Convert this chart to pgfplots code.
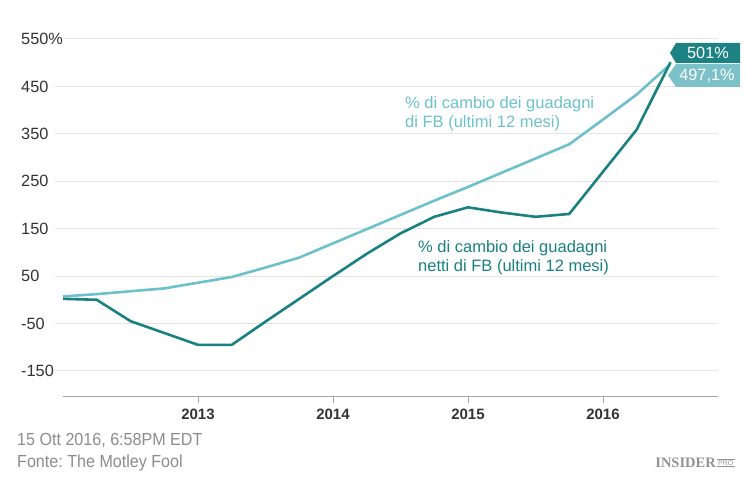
\documentclass[border=0pt]{standalone}
\usepackage{fontspec}
\setmainfont{Liberation Sans}
\newfontfamily\cond[FakeStretch=0.92]{Liberation Sans}
\newfontfamily\serifb{Liberation Serif}
\usepackage{pgfplots}
\pgfplotsset{compat=1.18}
\frenchspacing
\definecolor{darkt}{HTML}{1A8080}
\definecolor{lightt}{HTML}{6CC1CA}
\definecolor{tagd}{HTML}{1D8283}
\definecolor{tagl}{HTML}{7CC0C8}
\definecolor{gridc}{HTML}{E3E3E3}
\definecolor{txt}{HTML}{333333}
\definecolor{foot}{HTML}{8C8C8C}
\pgfplotstableread{
x y
2012.00 2
2012.25 0
2012.50 -45
2012.75 -70
2013.00 -95
2013.25 -95
2013.50 -46
2013.75 2
2014.00 50
2014.25 97
2014.50 140
2014.75 175
2015.00 195
2015.25 184
2015.50 175
2015.75 181
2016.00 270
2016.25 359
2016.50 501
}\netinc
\pgfplotstableread{
x y
2012.00 7
2012.25 12
2012.50 18
2012.75 24
2013.00 36
2013.25 48
2013.50 68
2013.75 89
2014.00 119
2014.25 149
2014.50 179
2014.75 209
2015.00 238
2015.25 268
2015.50 298
2015.75 328
2016.00 380
2016.25 433
2016.50 497.1
}\eps
\begin{document}
\begin{tikzpicture}[x=1pt,y=1pt]
\useasboundingbox (0,0) rectangle (750,497);
\begin{axis}[
  at={(63pt,100pt)}, anchor=south west,
  scale only axis, width=655pt, height=358pt,
  xmin=2012, xmax=2016.852, ymin=-205, ymax=550,
  clip=false,
  axis line style={draw=none},
  xtick={2013,2014,2015,2016},
  xticklabels={2013,2014,2015,2016},
  ytick={-150,-50,50,150,250,350,450,550},
  yticklabels={-150,-50,50,150,250,350,450,550\%},
  xtick pos=bottom, ytick pos=left,
  tick align=outside, major tick length=6pt,
  xtick style={draw=gray!70, line width=0.8pt},
  ytick style={draw=none},
  yticklabel style={anchor=west, inner sep=0pt, xshift=-36pt, font=\fontsize{16.3}{18}\selectfont, text=txt},
  xticklabel style={font=\bfseries\fontsize{15}{17}\selectfont, text=txt, yshift=-2pt},
]
\pgfplotsinvokeforeach{-150,-50,50,150,250,350,450}{
  \draw[gridc, line width=1pt] ([xshift=-8pt]axis cs:2012,#1) -- (axis cs:2016.852,#1);
}
\draw[gridc, line width=1pt] ([xshift=2pt]axis cs:2012,550) -- (axis cs:2016.852,550);
\draw[gray!70, line width=1pt] (axis cs:2012,-205) -- (axis cs:2016.852,-205);
\addplot[lightt, line width=2.6pt, line join=round] table[x=x,y=y]{\eps};
\addplot[darkt, line width=2.6pt, line join=round] table[x=x,y=y]{\netinc};
\end{axis}
% series labels
\node[anchor=west, align=left, inner sep=0pt, text=lightt, font=\fontsize{16.5}{19}\selectfont] at (405,383) {\% di cambio dei guadagni\\di FB (ultimi 12 mesi)};
\node[anchor=west, align=left, inner sep=0pt, text=darkt, font=\fontsize{16.5}{19}\selectfont] at (418,239.5) {\% di cambio dei guadagni\\netti di FB (ultimi 12 mesi)};
% value tags
\fill[tagd] (676,454) -- (740,454) -- (740,434) -- (676,434) -- (670,444) -- cycle;
\fill[tagl] (676,433) -- (740,433) -- (740,410) -- (676,410) -- (668,421.5) -- cycle;
\node[text=white, font=\fontsize{16.3}{18}\selectfont] at (708,444) {501\%};
\node[text=white, font=\fontsize{16.3}{18}\selectfont] at (707,421.5) {497,1\%};
% footer
\node[anchor=west, inner sep=0pt, text=foot, font=\cond\fontsize{17.5}{20}\selectfont] at (17,56) {15 Ott 2016, 6:58PM EDT};
\node[anchor=west, inner sep=0pt, text=foot, font=\cond\fontsize{17.5}{20}\selectfont] at (17,34) {Fonte: The Motley Fool};
\node[anchor=east, inner sep=0pt, text=gray!85, font=\serifb\bfseries\fontsize{14.5}{16}\selectfont] at (716,34) {INSIDER};
\node[anchor=west, inner sep=1pt, text=gray!85, font=\fontsize{7}{8}\selectfont] (pro) at (717,34) {PRO};
\draw[gray!85, line width=0.5pt] (pro.north west) -- (pro.north east) (pro.south west) -- (pro.south east);
\end{tikzpicture}
\end{document}
